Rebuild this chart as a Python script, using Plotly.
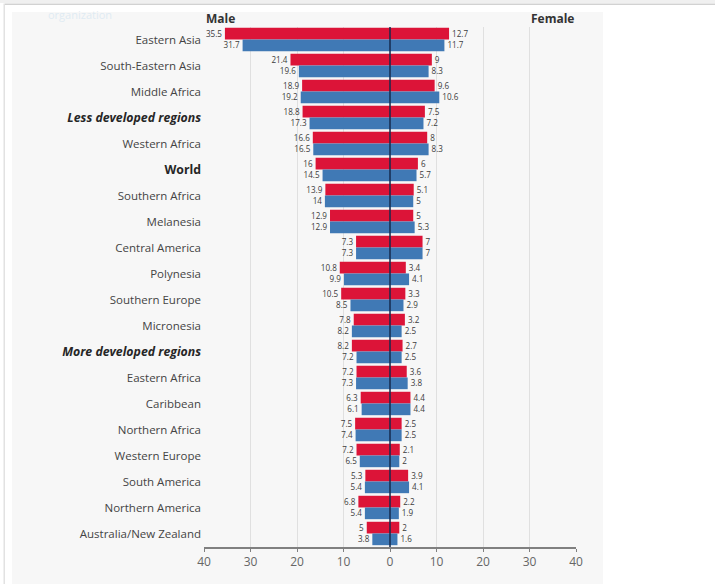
import plotly.graph_objects as go

regions = ["Eastern Asia", "South-Eastern Asia", "Middle Africa", "Less developed regions",
           "Western Africa", "World", "Southern Africa", "Melanesia", "Central America", "Polynesia",
           "Southern Europe", "Micronesia", "More developed regions", "Eastern Africa", "Caribbean",
           "Northern Africa", "Western Europe", "South America", "Northern America", "Australia/New Zealand"]
bold_italic = ["Less developed regions", "More developed regions"]
bold_only = ["World"]
male_red = [35.5, 21.4, 18.9, 18.8, 16.6, 16, 13.9, 12.9, 7.3, 10.8, 10.5, 7.8, 8.2, 7.2, 6.3, 7.5, 7.2, 5.3, 6.8, 5]
male_blue = [31.7, 19.6, 19.2, 17.3, 16.5, 14.5, 14, 12.9, 7.3, 9.9, 8.5, 8.2, 7.2, 7.3, 6.1, 7.4, 6.5, 5.4, 5.4, 3.8]
female_red = [12.7, 9, 9.6, 7.5, 8, 6, 5.1, 5, 7, 3.4, 3.3, 3.2, 2.7, 3.6, 4.4, 2.5, 2.1, 3.9, 2.2, 2]
female_blue = [11.7, 8.3, 10.6, 7.2, 8.3, 5.7, 5, 5.3, 7, 4.1, 2.9, 2.5, 2.5, 3.8, 4.4, 2.5, 2, 4.1, 1.9, 1.6]
tick_vals = [-40, -30, -20, -10, 0, 10, 20, 30, 40]
tick_text = ["40", "30", "20", "10", "0", "10", "20", "30", "40"]

RED = "#dc1438"
BLUE = "#4079b5"
FONT = "Open Sans"
W, H = 715, 584
L, R, T, B = 204, 139, 27, 37
PW, PH = W - L - R, H - T - B

def px(x):
    return (x - L) / PW

def py(y):
    return 1 - (y - T) / PH

def display(name):
    if name in bold_italic:
        return f'<span style="font-size:12.3px;fill:#262626"><b><i>{name}</i></b></span>'
    if name in bold_only:
        return f'<span style="font-size:12.3px;fill:#262626"><b>{name}</b></span>'
    return name

fig = go.Figure()

def add(values, labels, color, offset):
    fig.add_trace(go.Bar(
        y=regions, x=values, orientation="h", width=0.45, offset=offset,
        marker=dict(color=color, line=dict(width=0)),
        text=[str(v) for v in labels], textposition="outside", cliponaxis=False,
        textfont=dict(family=FONT, size=9, color="#3c3c3c"), showlegend=False))

add([-v for v in male_red], male_red, RED, -0.47)
add([-v for v in male_blue], male_blue, BLUE, -0.02)
add(female_red, female_red, RED, -0.47)
add(female_blue, female_blue, BLUE, -0.02)

def rect(x0, y0, x1, y1, color):
    return dict(type="rect", xref="paper", yref="paper", x0=px(x0), x1=px(x1), y0=py(y1), y1=py(y0),
                fillcolor=color, line_width=0, layer="below")

fig.update_layout(
    width=W, height=H, barmode="overlay",
    margin=dict(l=L, r=R, t=T, b=B),
    paper_bgcolor="white", plot_bgcolor="rgba(0,0,0,0)",
    font=dict(family=FONT, size=12, color="#555555"),
    xaxis=dict(range=[-40, 40], tickvals=tick_vals, ticktext=tick_text, showgrid=True,
               gridcolor="#e0e0e0", gridwidth=1, zeroline=False, showline=True, linecolor="#808080",
               linewidth=2, ticks="outside", ticklen=3, tickcolor="#808080",
               tickfont=dict(size=12, color="#666666")),
    yaxis=dict(categoryorder="array", categoryarray=regions, autorange="reversed",
               tickmode="array", tickvals=regions, ticktext=[display(r) for r in regions],
               showgrid=False, zeroline=False, ticks="", ticklabelstandoff=2,
               tickfont=dict(size=11.5, color="#444444")),
    shapes=[
        rect(0, 0, W, 3, "#f0f0f0"),
        rect(5, 3.5, W, 5, "#d2d2d2"),
        rect(3.5, 3.5, 5, H, "#e2e2e2"),
        rect(12, 12, 603, H, "#f7f7f7"),
        dict(type="line", xref="x", yref="paper", x0=0, x1=0, y0=0, y1=1,
             line=dict(color="#152a4e", width=1.5), layer="above"),
    ],
    annotations=[
        dict(text="<b>Male</b>", xref="paper", yref="paper", x=0, y=1.0, yshift=-2, xanchor="left", yanchor="bottom",
             showarrow=False, font=dict(family=FONT, size=12, color="#333333")),
        dict(text="<b>Female</b>", xref="paper", yref="paper", x=px(552), y=1.0, yshift=-2, xanchor="center",
             yanchor="bottom", showarrow=False, font=dict(family=FONT, size=12, color="#333333")),
        dict(text="organization", xref="paper", yref="paper", x=px(46), y=py(14), xanchor="left", yanchor="middle",
             showarrow=False, font=dict(family=FONT, size=11, color="#dfebf3")),
    ],
)
fig.write_html("out.html", config={"displayModeBar": False},
               post_script="document.body.style.margin='0';document.body.style.overflow='hidden';")
